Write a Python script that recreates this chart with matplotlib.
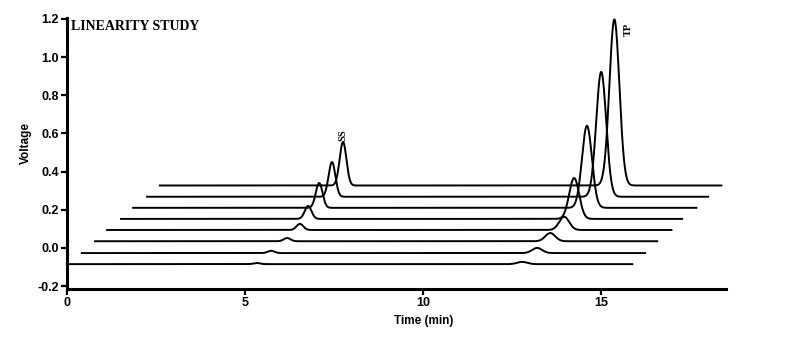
import numpy as np
import matplotlib
matplotlib.use("Agg")
import matplotlib.pyplot as plt

# Per-trace data (bottom trace first)
trace_start = [0.0, 0.39, 0.76, 1.10, 1.49, 1.83, 2.22, 2.58]      # min
trace_end = [15.9, 16.26, 16.6, 17.0, 17.3, 17.7, 18.03, 18.4]     # min
baseline = [-0.085, -0.027, 0.035, 0.094, 0.152, 0.210, 0.268, 0.327]  # V
ss_time = [5.33, 5.73, 6.18, 6.54, 6.77, 7.08, 7.44, 7.75]          # min
ss_height = [0.006, 0.012, 0.017, 0.032, 0.068, 0.130, 0.182, 0.228]
tp_time = [12.78, 13.20, 13.57, 13.96, 14.24, 14.60, 15.00, 15.37]
tp_height = [0.012, 0.027, 0.043, 0.069, 0.214, 0.430, 0.654, 0.870]
ss_width = 0.095
tp_width = 0.14

yticks = [-0.2, 0.0, 0.2, 0.4, 0.6, 0.8, 1.0, 1.2]
ytick_labels = ["-0.2", "0.0", "0.2", "0.4", "0.6", "0.8", "1.0", "1.2"]
xticks = [0, 5, 10, 15]

fig = plt.figure(figsize=(7.95, 3.44), dpi=100)
ax = fig.add_axes([0.0843, 0.160, 0.913 - 0.0843, 0.948 - 0.160])

for i in range(len(baseline)):
    t = np.linspace(trace_start[i], trace_end[i], 2000)
    y = (baseline[i]
         + ss_height[i] * np.exp(-0.5 * ((t - ss_time[i]) / ss_width) ** 2)
         + tp_height[i] * np.exp(-0.5 * ((t - tp_time[i]) / tp_width) ** 2))
    ax.plot(t, y, color="black", lw=1.4, solid_capstyle="butt")

ax.set_xlim(0, 18.5)
ax.set_ylim(-0.215, 1.205)
ax.set_xticks(xticks)
ax.set_xticklabels([str(v) for v in xticks], fontsize=9, fontweight="bold",
                   family="Liberation Sans")
ax.set_yticks(yticks)
ax.set_yticklabels(ytick_labels, fontsize=9, fontweight="bold",
                   family="Liberation Sans")
for s in ["top", "right"]:
    ax.spines[s].set_visible(False)
for s in ["left", "bottom"]:
    ax.spines[s].set_linewidth(2.2)
ax.tick_params(direction="out", length=4, width=1.6, pad=2)

ax.set_xlabel("Time (min)", fontsize=8.5, fontweight="bold",
              family="Liberation Sans")
ax.xaxis.set_label_coords(0.542, -0.095)
ax.set_ylabel("Voltage", fontsize=8.5, fontweight="bold",
              family="Liberation Sans")
ax.yaxis.set_label_coords(-0.053, 0.54)

ax.text(0.1, 1.195, "LINEARITY STUDY", fontsize=10, fontweight="bold",
        family="Liberation Serif", va="top", ha="left")
ax.text(ss_time[-1], 0.56, "SS", fontsize=7.5, fontweight="bold",
        family="Liberation Serif", rotation=90, ha="center", va="bottom")
ax.text(15.76, 1.11, "TP", fontsize=7.5, fontweight="bold",
        family="Liberation Serif", rotation=90, ha="center", va="bottom")

fig.savefig("out.png", dpi=100)
